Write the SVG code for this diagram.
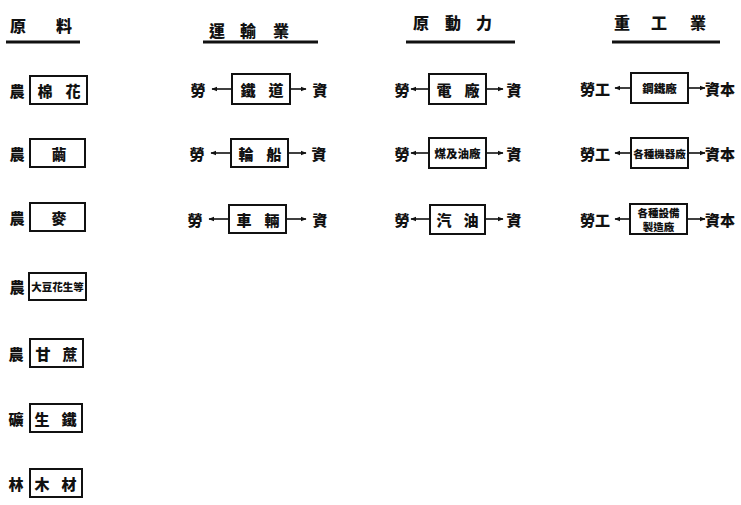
<svg xmlns="http://www.w3.org/2000/svg" width="741" height="505" viewBox="0 0 741 505">
<defs>
<style>
text{font-family:"Noto Sans CJK TC","Noto Sans CJK SC",sans-serif;font-weight:900;fill:#111;text-anchor:middle;dominant-baseline:central}
.h{font-size:16px}
.l{font-size:15px}
.b{font-size:15px}
.s{font-size:10.5px}
.m{font-size:11.5px}
.box{fill:#fff;stroke:#111;stroke-width:2}
.ul{stroke:#111;stroke-width:3}
.ar{stroke:#111;stroke-width:1.6;fill:none}
</style>
<marker id="ah" viewBox="0 0 10 10" refX="9" refY="5" markerWidth="6" markerHeight="6" orient="auto-start-reverse" markerUnits="userSpaceOnUse">
<path d="M0,1 L10,5 L0,9 Z" fill="#111"/>
</marker>
</defs>
<rect width="741" height="505" fill="#fff"/>

<g id="headers">
<text class="h" x="18" y="25">原</text><text class="h" x="64" y="25">料</text>
<line class="ul" x1="6" y1="42" x2="80" y2="42"/>
<text class="h" x="217" y="30">運</text><text class="h" x="248" y="30">輸</text><text class="h" x="281" y="30">業</text>
<line class="ul" x1="203" y1="42" x2="318" y2="42"/>
<text class="h" x="421" y="22">原</text><text class="h" x="453" y="22">動</text><text class="h" x="484" y="22">力</text>
<line class="ul" x1="406" y1="42" x2="515" y2="42"/>
<text class="h" x="622" y="22">重</text><text class="h" x="659" y="22">工</text><text class="h" x="698" y="22">業</text>
<line class="ul" x1="612" y1="42" x2="720" y2="42"/>
</g>

<g id="c1r1"><text class="l" x="17" y="90">農</text><rect class="box" x="30" y="76" width="57" height="28"/><text class="b" x="45" y="90">棉</text><text class="b" x="73" y="90">花</text></g>
<g id="c1r2"><text class="l" x="17" y="153">農</text><rect class="box" x="30" y="139" width="55" height="28"/><text class="b" x="59" y="153">繭</text></g>
<g id="c1r3"><text class="l" x="17" y="217">農</text><rect class="box" x="30" y="203" width="55" height="28"/><text class="b" x="59" y="217">麥</text></g>
<g id="c1r4"><text class="l" x="17" y="286">農</text><rect class="box" x="29" y="273" width="57" height="27"/><text class="s" x="57.5" y="286.5">大豆花生等</text></g>
<g id="c1r5"><text class="l" x="16" y="353">農</text><rect class="box" x="30" y="339" width="53" height="28"/><text class="b" x="43" y="353">甘</text><text class="b" x="70" y="353">蔗</text></g>
<g id="c1r6"><text class="l" x="16" y="418">礦</text><rect class="box" x="30" y="404" width="52" height="28"/><text class="b" x="42" y="418">生</text><text class="b" x="69" y="418">鐵</text></g>
<g id="c1r7"><text class="l" x="16" y="483">林</text><rect class="box" x="30" y="469" width="52" height="28"/><text class="b" x="42" y="483">木</text><text class="b" x="69" y="483">材</text></g>

<g id="c2r1"><text class="l" x="198" y="89">勞</text><rect class="box" x="232" y="74" width="58" height="30"/><text class="b" x="248" y="89">鐵</text><text class="b" x="276" y="89">道</text><text class="l" x="320" y="89">資</text></g>
<g id="c2r2"><text class="l" x="197" y="153">勞</text><rect class="box" x="231" y="139" width="57" height="28"/><text class="b" x="246" y="153">輪</text><text class="b" x="274" y="153">船</text><text class="l" x="319" y="153">資</text></g>
<g id="c2r3"><text class="l" x="195" y="219">勞</text><rect class="box" x="229" y="205" width="57" height="28"/><text class="b" x="244" y="219">車</text><text class="b" x="272" y="219">輛</text><text class="l" x="320" y="219">資</text></g>

<g id="c3r1"><text class="l" x="402" y="89">勞</text><rect class="box" x="429" y="74" width="57" height="30"/><text class="b" x="444" y="89">電</text><text class="b" x="472" y="89">廠</text><text class="l" x="514" y="89">資</text></g>
<g id="c3r2"><text class="l" x="402" y="153">勞</text><rect class="box" x="429" y="138" width="57" height="30"/><text class="m" x="457.5" y="153">煤及油廠</text><text class="l" x="514" y="153">資</text></g>
<g id="c3r3"><text class="l" x="402" y="219">勞</text><rect class="box" x="430" y="205" width="55" height="29"/><text class="b" x="444" y="219.5">汽</text><text class="b" x="471" y="219.5">油</text><text class="l" x="514" y="219">資</text></g>

<g id="c4r1"><text class="l" x="595" y="88">勞工</text><rect class="box" x="631" y="73" width="57" height="30"/><text class="m" x="659.5" y="88">鋼鐵廠</text><text class="l" x="720" y="88">資本</text></g>
<g id="c4r2"><text class="l" x="595" y="153">勞工</text><rect class="box" x="631" y="138" width="57" height="30"/><text class="s" x="659.5" y="153">各種機器廠</text><text class="l" x="720" y="153">資本</text></g>
<g id="c4r3"><text class="l" x="595" y="219">勞工</text><rect class="box" x="630" y="204" width="57" height="30"/><text class="s" x="658.5" y="212.5">各種設備</text><text class="s" x="658.5" y="226">製造廠</text><text class="l" x="720" y="219">資本</text></g>

<g id="connectors">
<line class="ar" x1="232" y1="89" x2="212" y2="89" marker-end="url(#ah)"/>
<line class="ar" x1="290" y1="89" x2="306" y2="89" marker-end="url(#ah)"/>
<line class="ar" x1="231" y1="153" x2="211" y2="153" marker-end="url(#ah)"/>
<line class="ar" x1="288" y1="153" x2="306" y2="153" marker-end="url(#ah)"/>
<line class="ar" x1="229" y1="219" x2="209" y2="219" marker-end="url(#ah)"/>
<line class="ar" x1="286" y1="219" x2="306" y2="219" marker-end="url(#ah)"/>
<line class="ar" x1="429" y1="89" x2="411" y2="89" marker-end="url(#ah)"/>
<line class="ar" x1="486" y1="89" x2="503" y2="89" marker-end="url(#ah)"/>
<line class="ar" x1="429" y1="153" x2="411" y2="153" marker-end="url(#ah)"/>
<line class="ar" x1="486" y1="153" x2="503" y2="153" marker-end="url(#ah)"/>
<line class="ar" x1="430" y1="219" x2="411" y2="219" marker-end="url(#ah)"/>
<line class="ar" x1="485" y1="219" x2="503" y2="219" marker-end="url(#ah)"/>
<line class="ar" x1="631" y1="88" x2="615" y2="88" marker-end="url(#ah)"/>
<line class="ar" x1="688" y1="88" x2="705" y2="88" marker-end="url(#ah)"/>
<line class="ar" x1="631" y1="153" x2="615" y2="153" marker-end="url(#ah)"/>
<line class="ar" x1="688" y1="153" x2="705" y2="153" marker-end="url(#ah)"/>
<line class="ar" x1="630" y1="219" x2="615" y2="219" marker-end="url(#ah)"/>
<line class="ar" x1="687" y1="219" x2="705" y2="219" marker-end="url(#ah)"/>
</g>
</svg>
